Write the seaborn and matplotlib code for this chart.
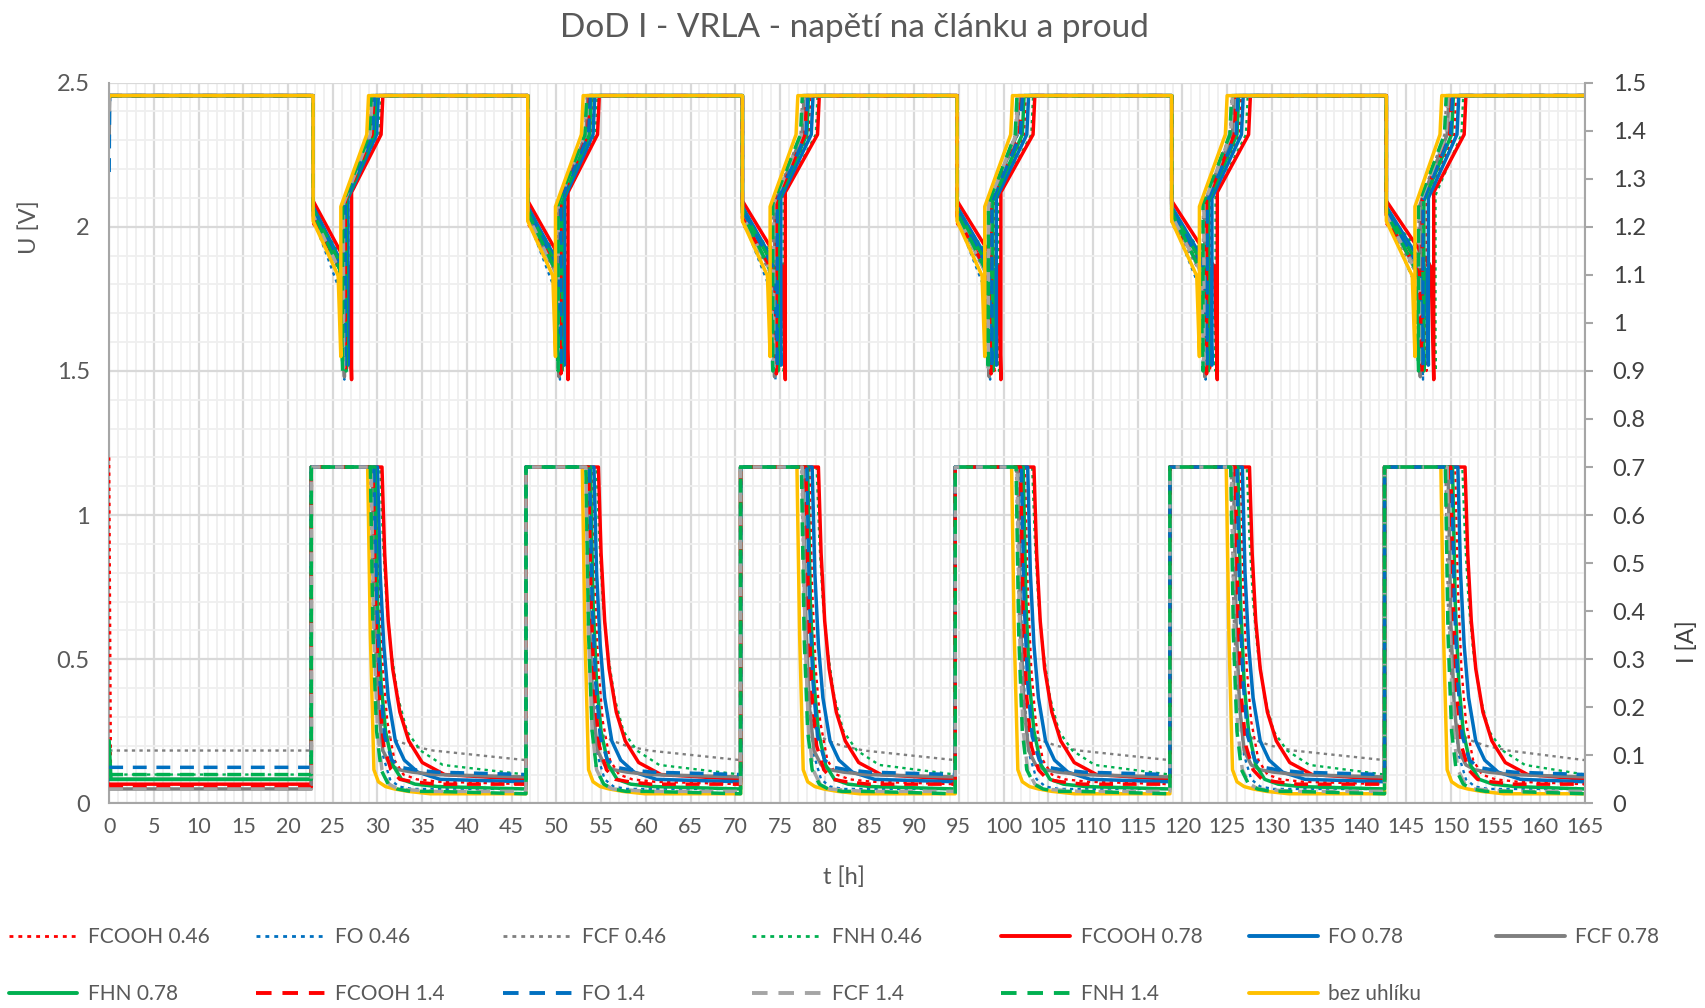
import matplotlib
matplotlib.use("Agg")
import matplotlib.pyplot as plt
import seaborn as sns
from matplotlib.lines import Line2D
from matplotlib.ticker import MultipleLocator

# ── data ─────────────────────────────────────────────────────────────────
series = ['FCOOH 0.46', 'FO 0.46', 'FCF 0.46', 'FNH 0.46',
          'FCOOH 0.78', 'FO 0.78', 'FCF 0.78', 'FHN 0.78',
          'FCOOH 1.4', 'FO 1.4', 'FCF 1.4', 'FNH 1.4', 'bez uhlíku']

t_dis = [22.8, 46.8, 70.8, 94.8, 118.8, 142.8]   # start of each discharge [h]
t_end = 165.0
u_float = 2.455       # charging plateau [V]
u_cv = 2.32           # voltage where the charge curve turns steep [V]
i_dis = 0.70          # discharge / CC charge current [A]

# end of discharge (cut-off) per cycle [h]
t_cut = {
    'FCOOH 0.46': [26.6, 50.7, 74.9, 99.0, 123.1, 147.3],
    'FO 0.46':    [26.3, 50.4, 74.5, 98.5, 122.6, 146.9],
    'FCF 0.46':   [26.1, 50.2, 74.2, 98.3, 122.3, 146.4],
    'FNH 0.46':   [27.0, 51.2, 75.4, 99.5, 123.7, 148.3],
    'FCOOH 0.78': [27.1, 51.3, 75.6, 99.7, 123.9, 148.1],
    'FO 0.78':    [26.7, 50.9, 75.1, 99.2, 123.3, 147.5],
    'FCF 0.78':   [26.3, 50.3, 74.4, 98.4, 122.5, 146.6],
    'FHN 0.78':   [26.5, 50.6, 74.8, 98.8, 122.9, 147.0],
    'FCOOH 1.4':  [26.4, 50.5, 74.6, 98.6, 122.7, 146.8],
    'FO 1.4':     [26.4, 50.5, 74.7, 98.7, 122.8, 146.9],
    'FCF 1.4':    [26.2, 50.2, 74.3, 98.3, 122.4, 146.5],
    'FNH 1.4':    [26.1, 50.2, 74.2, 98.3, 122.3, 146.4],
    'bez uhlíku': [25.9, 49.9, 73.9, 97.9, 121.9, 146.0],
}
# end of constant-current charge (current starts to fall) [h]
t_cc = {
    'FCOOH 0.46': [29.9, 54.0, 78.3, 102.4, 126.5, 150.5],
    'FO 0.46':    [29.4, 53.4, 77.6, 101.7, 125.7, 149.7],
    'FCF 0.46':   [29.2, 53.3, 77.4, 101.4, 125.4, 149.4],
    'FNH 0.46':   [30.3, 54.5, 79.1, 103.2, 127.2, 151.3],
    'FCOOH 0.78': [30.5, 54.7, 79.3, 103.4, 127.5, 151.6],
    'FO 0.78':    [30.0, 54.2, 78.6, 102.7, 126.7, 150.8],
    'FCF 0.78':   [29.4, 53.4, 77.6, 101.6, 125.7, 149.7],
    'FHN 0.78':   [29.7, 53.8, 78.1, 102.2, 126.2, 150.2],
    'FCOOH 1.4':  [29.5, 53.6, 77.9, 101.9, 125.9, 150.0],
    'FO 1.4':     [29.6, 53.7, 78.0, 102.0, 126.1, 150.1],
    'FCF 1.4':    [29.3, 53.3, 77.5, 101.5, 125.5, 149.6],
    'FNH 1.4':    [29.2, 53.3, 77.4, 101.4, 125.4, 149.4],
    'bez uhlíku': [28.9, 52.9, 76.9, 100.9, 124.9, 148.9],
}

# voltage levels per series [V]
u_start = [2.45, 2.45, 2.40, 2.45, 2.45, 2.45, 2.30, 2.45, 2.45, 2.19, 2.40, 2.45, 2.45]
u_d0    = [2.01, 2.03, 2.02, 2.05, 2.09, 2.07, 2.04, 2.06, 2.03, 2.06, 2.04, 2.05, 2.02]
u_knee  = [1.84, 1.76, 1.84, 1.86, 1.86, 1.85, 1.84, 1.85, 1.84, 1.85, 1.84, 1.85, 1.83]
u_min   = [1.50, 1.47, 1.52, 1.50, 1.47, 1.52, 1.48, 1.50, 1.49, 1.51, 1.51, 1.50, 1.55]
u_c0    = [2.09, 2.08, 2.07, 2.11, 2.12, 2.10, 2.08, 2.09, 2.09, 2.09, 2.08, 2.08, 2.07]

# current levels per series [A]
i_spike = [0.72, 0.04, 0.11, 0.06, 0.04, 0.05, 0.03, 0.13, 0.035, 0.075, 0.03, 0.06, 0.05]
i_init  = [0.05, 0.04, 0.11, 0.06, 0.04, 0.05, 0.03, 0.05, 0.035, 0.075, 0.03, 0.06, 0.05]
i_end   = [0.04, 0.03, 0.09, 0.06, 0.05, 0.045, 0.055, 0.03, 0.04, 0.06, 0.025, 0.02, 0.02]

# current decay after the CC charge, hours after t_cc
decay_dt = [0, 0.3, 0.7, 1.2, 2, 3, 4.5, 7]
i_decay = {
    'FCOOH 0.46': [0.70, 0.45, 0.28, 0.17, 0.09, 0.06, 0.05, 0.045],
    'FO 0.46':    [0.70, 0.38, 0.20, 0.10, 0.05, 0.035, 0.03, 0.03],
    'FCF 0.46':   [0.70, 0.40, 0.25, 0.17, 0.14, 0.13, 0.12, 0.11],
    'FNH 0.46':   [0.70, 0.55, 0.42, 0.32, 0.22, 0.15, 0.11, 0.08],
    'FCOOH 0.78': [0.70, 0.52, 0.38, 0.28, 0.19, 0.13, 0.085, 0.06],
    'FO 0.78':    [0.70, 0.48, 0.33, 0.22, 0.13, 0.09, 0.065, 0.05],
    'FCF 0.78':   [0.70, 0.38, 0.20, 0.11, 0.08, 0.07, 0.065, 0.06],
    'FHN 0.78':   [0.70, 0.42, 0.25, 0.15, 0.08, 0.05, 0.04, 0.035],
    'FCOOH 1.4':  [0.70, 0.40, 0.22, 0.12, 0.07, 0.05, 0.045, 0.04],
    'FO 1.4':     [0.70, 0.42, 0.25, 0.14, 0.09, 0.075, 0.07, 0.065],
    'FCF 1.4':    [0.70, 0.35, 0.15, 0.07, 0.04, 0.03, 0.028, 0.025],
    'FNH 1.4':    [0.70, 0.35, 0.15, 0.07, 0.04, 0.03, 0.025, 0.025],
    'bez uhlíku': [0.70, 0.35, 0.07, 0.045, 0.035, 0.03, 0.025, 0.02],
}

# ── styles ───────────────────────────────────────────────────────────────
colors = ['#FF0000', '#0070C0', '#7F7F7F', '#00B050',
          '#FF0000', '#0070C0', '#7F7F7F', '#00B050',
          '#FF0000', '#0070C0', '#A5A5A5', '#00B050', '#FFC000']
dotted = (0, (1.4, 1.8))
dashed = (0, (4, 2.8))
styles = [dotted] * 4 + ['-'] * 4 + [dashed] * 4 + ['-']
widths = [1.7] * 4 + [2.5] * 4 + [2.5] * 4 + [2.5]

sns.set_theme(style="white")
plt.rcParams['font.family'] = ['Lato', 'DejaVu Sans']
txt = '#595959'

fig = plt.figure(figsize=(17.06, 10.08), dpi=100)
ax = fig.add_axes([0.064, 0.203, 0.865, 0.715])
ax2 = ax.twinx()


def voltage_curve(k, name):
    t = [0, 0.05]
    u = [u_start[k], u_float]
    for c, td in enumerate(t_dis):
        tc, tcc = t_cut[name][c], t_cc[name][c]
        t += [td, td, tc - 0.3, tc, tc, tcc - 0.1, tcc + 0.1]
        u += [u_float, u_d0[k], u_knee[k], u_min[k], u_c0[k], u_cv, u_float]
    t.append(t_end)
    u.append(u_float)
    return t, u


def current_curve(k, name):
    t = [0, 0.2]
    i = [i_spike[k], i_init[k]]
    level = i_init[k]
    for c, td in enumerate(t_dis):
        tr = td - 0.2
        t += [tr, tr]
        i += [level, i_dis]
        t += [t_cc[name][c] + d for d in decay_dt]
        i += i_decay[name]
        level = i_end[k]
    t.append(t_end)
    i.append(i_end[k])
    return t, i


for k, name in enumerate(series):
    t, u = voltage_curve(k, name)
    sns.lineplot(x=t, y=u, ax=ax, color=colors[k], linestyle=styles[k],
                 linewidth=widths[k], sort=False, estimator=None, legend=False)

for k in [12] + list(range(12)):
    name = series[k]
    t, i = current_curve(k, name)
    sns.lineplot(x=t, y=i, ax=ax2, color=colors[k], linestyle=styles[k],
                 linewidth=widths[k], sort=False, estimator=None, legend=False)

# ── axes ────────────────────────────────────────────────────────────────
ax.set_xlim(0, 165)
ax.set_ylim(0, 2.5)
ax2.set_ylim(0, 1.5)
ax.xaxis.set_major_locator(MultipleLocator(5))
ax.xaxis.set_minor_locator(MultipleLocator(1))
ax.yaxis.set_major_locator(MultipleLocator(0.5))
ax.yaxis.set_minor_locator(MultipleLocator(0.1))
ax2.yaxis.set_major_locator(MultipleLocator(0.1))

ax.grid(which='major', color='#D9D9D9', lw=1.6)
ax.grid(which='minor', color='#EFEFEF', lw=1.3)
ax.set_axisbelow(True)

for a in (ax, ax2):
    for s in a.spines.values():
        s.set_visible(False)
ax.spines['left'].set_visible(True)
ax.spines['bottom'].set_visible(True)
ax2.spines['right'].set_visible(True)
for s in (ax.spines['left'], ax.spines['bottom'], ax2.spines['right']):
    s.set_color('#A6A6A6')
    s.set_linewidth(1.5)

ax.tick_params(axis='x', which='both', length=0, pad=10, labelsize=15.5, labelcolor=txt)
ax.tick_params(axis='y', which='both', length=0, pad=14, labelsize=17, labelcolor=txt)
ax2.tick_params(axis='y', which='major', length=6, width=1.5, color='#A6A6A6',
                pad=14, labelsize=17, labelcolor='#404040', direction='out')
ax2.tick_params(axis='y', which='minor', length=0)

ax.set_xticks(range(0, 166, 5))
ax.set_xticklabels([str(v) for v in range(0, 166, 5)])
ax.set_yticks([0, 0.5, 1, 1.5, 2, 2.5])
ax.set_yticklabels(['0', '0.5', '1', '1.5', '2', '2.5'])
r_ticks = [0, 0.1, 0.2, 0.3, 0.4, 0.5, 0.6, 0.7, 0.8, 0.9, 1, 1.1, 1.2, 1.3, 1.4, 1.5]
ax2.set_yticks(r_ticks)
ax2.set_yticklabels([f'{v:g}' for v in r_ticks])

ax.set_xlabel('t [h]', fontsize=17, color=txt)
ax.set_ylabel('U [V]', fontsize=17, color=txt)
ax2.set_ylabel('I [A]', fontsize=17, color='#404040')
ax.xaxis.set_label_coords(0.498, -0.087)
ax.yaxis.set_label_coords(-0.047, 0.80)
ax2.yaxis.set_label_coords(1.062, 0.224)

fig.text(0.501, 0.972, 'DoD I - VRLA - napětí na článku a proud',
         ha='center', va='center', fontsize=24, color=txt)

# ── legend: 7 equal-width slots per row ─────────────────────────────────
slot_x = [0.005, 0.150, 0.295, 0.441, 0.587, 0.732, 0.877]
row_y = [0.070, 0.014]
for k, name in enumerate(series):
    row, col = divmod(k, 7)
    h = Line2D([], [], color=colors[k], linestyle=styles[k], linewidth=widths[k] + 0.3)
    fig.legend(handles=[h], labels=[name], loc='center left',
               bbox_to_anchor=(slot_x[col], row_y[row]), frameon=False,
               fontsize=15, labelcolor=txt, handlelength=3.3, handletextpad=0.5,
               borderpad=0, borderaxespad=0)

plt.savefig("out.png", dpi=100)
print("saved")
